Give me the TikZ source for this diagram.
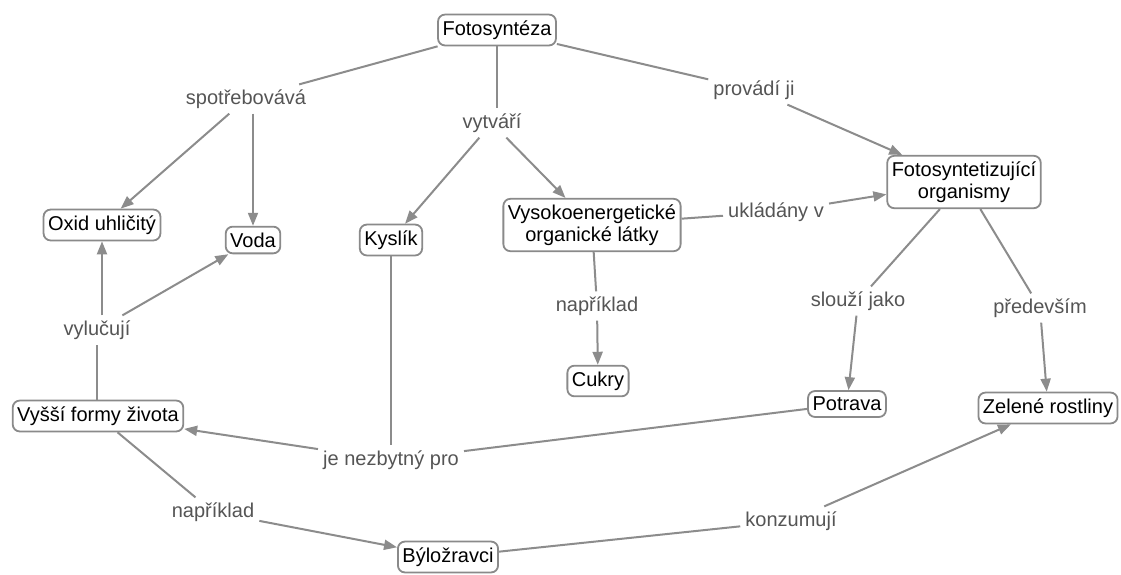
\documentclass[tikz,border=0pt]{standalone}
\usepackage{fontspec}
\setmainfont{Liberation Sans}
\usetikzlibrary{arrows.meta}
\definecolor{edgegray}{HTML}{8C8C8C}
\definecolor{boxgray}{HTML}{8A8A8A}
\definecolor{labgray}{HTML}{555555}
\begin{document}
\begin{tikzpicture}[x=1pt,y=-1pt,
  concept/.style={draw=boxgray, line width=1.8pt, fill=white, rounded corners=7pt,
    inner xsep=4.5pt, inner ysep=6pt, align=center, text=black,
    font=\fontsize{20}{21.5}\selectfont},
  lab/.style={text=labgray, inner sep=5pt, align=center, font=\fontsize{20}{23}\selectfont},
  ln/.style={draw=edgegray, line width=2pt},
  arr/.style={ln, -{Triangle[length=13pt,width=10pt]}}]
\useasboundingbox (0,0) rectangle (1121,574);
\fill[white] (0,0) rectangle (1121,574);
% concepts
\node[concept] (foto) at (497,30) {Fotosyntéza};
\node[concept] (org) at (964,182) {Fotosyntetizující\\organismy};
\node[concept] (oxid) at (102,225) {Oxid uhličitý};
\node[concept] (voda) at (253,240) {Voda};
\node[concept] (kys) at (391,240) {Kyslík};
\node[concept] (vys) at (592,225) {Vysokoenergetické\\organické látky};
\node[concept] (cuk) at (598,381) {Cukry};
\node[concept] (vyssi) at (98,416) {Vyšší formy života};
\node[concept] (pot) at (847,404) {Potrava};
\node[concept] (zel) at (1048,408) {Zelené rostliny};
\node[concept] (byl) at (448,557) {Býložravci};
% labels
\node[lab] (spot) at (246,99) {spotřebovává};
\node[lab] (vytv) at (492,123) {vytváří};
\node[lab] (prov) at (754,90) {provádí ji};
\node[lab] (uklad) at (776,212) {ukládány v};
\node[lab] (slouzi) at (858,301) {slouží jako};
\node[lab] (predev) at (1040,308) {především};
\node[lab] (napr1) at (597,306) {například};
\node[lab] (vyluc) at (97,330) {vylučují};
\node[lab] (jenez) at (391,460) {je nezbytný pro};
\node[lab] (napr2) at (213,512) {například};
\node[lab] (konz) at (791,521) {konzumují};
% connectors
\draw[ln] (foto) -- (spot);
\draw[arr] (spot) -- (oxid);
\draw[arr] (spot.south -| voda) -- (voda);
\draw[ln] (foto.south) -- (vytv.north -| foto.south);
\draw[arr] (vytv) -- (kys);
\draw[arr] (vytv) -- (vys);
\draw[ln] (foto) -- (prov);
\draw[arr] (prov) -- (org);
\draw[ln] (vys) -- (uklad);
\draw[arr] (uklad) -- (org);
\draw[ln] (vys) -- (napr1);
\draw[arr] (napr1) -- (cuk);
\draw[ln] (org) -- (slouzi);
\draw[arr] (slouzi) -- (pot);
\draw[ln] (org) -- (predev);
\draw[arr] (predev) -- (zel);
\draw[ln] (vyssi.north -| vyluc) -- (vyluc);
\draw[arr] (vyluc.north -| oxid) -- (oxid);
\draw[arr] (vyluc) -- (voda);
\draw[ln] (kys) -- (jenez);
\draw[ln] (pot) -- (jenez);
\draw[arr] (jenez) -- (vyssi);
\draw[ln] (vyssi) -- (napr2);
\draw[arr] (napr2) -- (byl);
\draw[ln] (byl) -- (konz);
\draw[arr] (konz) -- (zel);
\end{tikzpicture}
\end{document}
